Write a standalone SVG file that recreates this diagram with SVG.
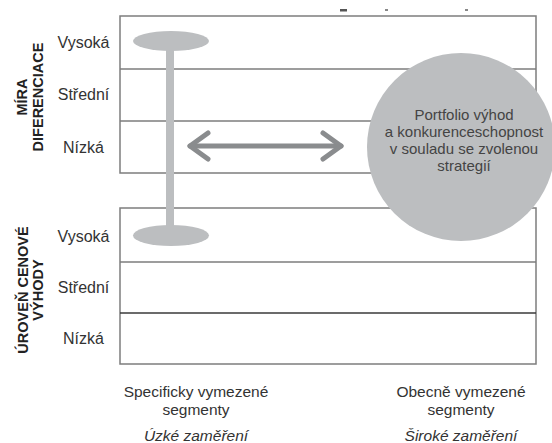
<svg xmlns="http://www.w3.org/2000/svg" width="552" height="443" viewBox="0 0 552 443">
<style>
.lbl{font-family:"Liberation Sans",Arial,sans-serif;font-size:16px;fill:#333;text-anchor:middle}
.ax{font-family:"Liberation Sans",Arial,sans-serif;font-size:14.5px;font-weight:bold;fill:#222;text-anchor:middle}
.ctext{font-family:"Liberation Sans",Arial,sans-serif;font-size:15px;fill:#444;text-anchor:middle}
.bot{font-family:"Liberation Sans",Arial,sans-serif;font-size:15.5px;fill:#333;text-anchor:middle}
.it{font-style:italic}
.grid{fill:none;stroke:#7d7d7d;stroke-width:1.5}
.shape{fill:#bcbec0}
.arrow{fill:none;stroke:#8a8c8e;stroke-width:5;stroke-linecap:round;stroke-linejoin:round}
</style>
<rect width="552" height="443" fill="#fff"/>
<g id="marks" fill="#888">
<rect x="340" y="9" width="7" height="2.5" fill="#555"/>
<rect x="385" y="9" width="3" height="2"/>
<rect x="465" y="9" width="3" height="2"/>
</g>
<g id="grid-top">
<rect class="grid" x="120" y="16" width="416" height="157"/>
<line class="grid" x1="120" y1="69" x2="536" y2="69"/>
<line class="grid" x1="120" y1="121" x2="536" y2="121"/>
</g>
<g id="grid-bottom">
<rect class="grid" x="120" y="208" width="416" height="156"/>
<line class="grid" x1="120" y1="262" x2="536" y2="262"/>
<line x1="120" y1="313" x2="536" y2="313" stroke="#3a3a3a" stroke-width="1.5"/>
</g>
<g id="axis-labels">
<text class="ax" transform="translate(27,97) rotate(-90)">MÍRA</text>
<text class="ax" transform="translate(43,97) rotate(-90)">DIFERENCIACE</text>
<text class="ax" transform="translate(28,290) rotate(-90)">ÚROVEŇ CENOVÉ</text>
<text class="ax" transform="translate(43,290) rotate(-90)">VÝHODY</text>
</g>
<g id="row-labels">
<text class="lbl" x="83.5" y="48">Vysoká</text>
<text class="lbl" x="83.5" y="100">Střední</text>
<text class="lbl" x="83.5" y="153">Nízká</text>
<text class="lbl" x="83.5" y="242">Vysoká</text>
<text class="lbl" x="83.5" y="293">Střední</text>
<text class="lbl" x="83.5" y="344">Nízká</text>
</g>
<g id="range-bar">
<rect class="shape" x="166" y="41" width="8" height="194"/>
<ellipse class="shape" cx="171" cy="41" rx="38" ry="10"/>
<ellipse class="shape" cx="171" cy="235.5" rx="38" ry="10.5"/>
</g>
<g id="connectors">
<line class="arrow" x1="190" y1="146" x2="341" y2="146"/>
<polyline class="arrow" points="208,133 190,146 208,159"/>
<polyline class="arrow" points="323,133 341,146 323,159"/>
</g>
<g id="portfolio">
<circle class="shape" cx="461" cy="147" r="94"/>
<text class="ctext" x="464" y="120">Portfolio výhod</text>
<text class="ctext" x="464" y="137">a konkurenceschopnost</text>
<text class="ctext" x="464" y="154">v souladu se zvolenou</text>
<text class="ctext" x="464" y="171">strategií</text>
</g>
<g id="bottom-labels">
<text class="bot" x="196" y="397">Specificky vymezené</text>
<text class="bot" x="196" y="415">segmenty</text>
<text class="bot it" x="196" y="441">Úzké zaměření</text>
<text class="bot" x="461" y="397">Obecně vymezené</text>
<text class="bot" x="461" y="415">segmenty</text>
<text class="bot it" x="461" y="441">Široké zaměření</text>
</g>
</svg>
